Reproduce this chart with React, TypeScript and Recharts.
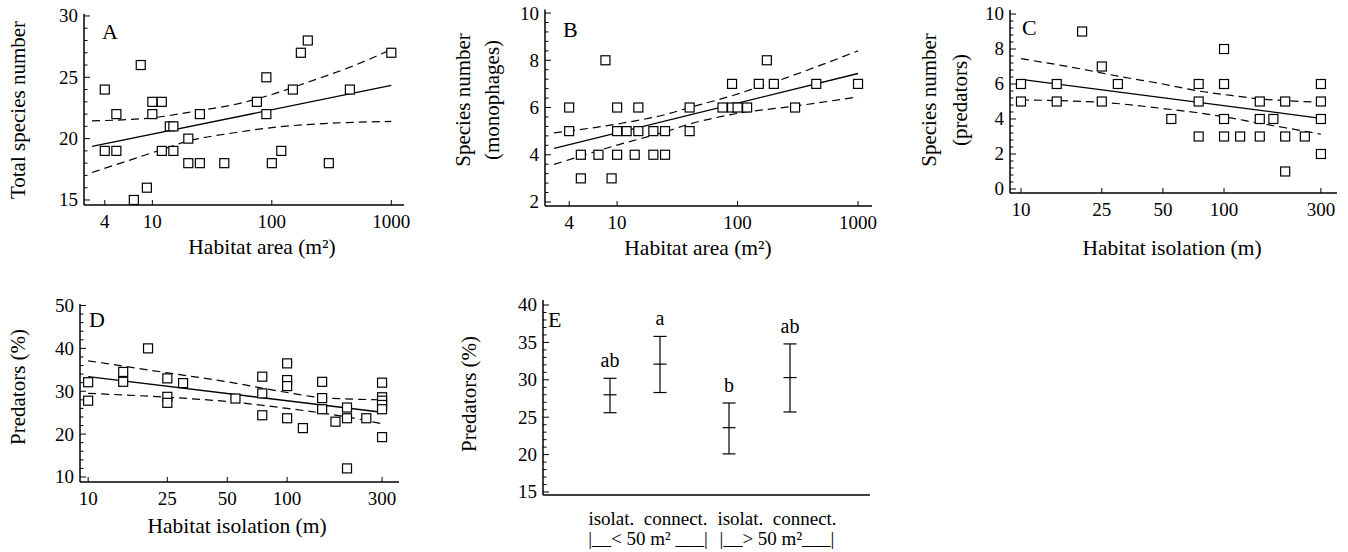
import React from 'react';
import { ComposedChart, Scatter, Line, XAxis, YAxis, ErrorBar } from 'recharts';

const FONT = '"Liberation Serif", "DejaVu Serif", "Times New Roman", serif';

// ---------- Panel A: total species vs habitat area ----------
const A_X = [4, 4, 5, 5, 7, 8, 9, 10, 10, 12, 12, 14, 15, 15, 20, 20, 25, 25, 40, 75, 90, 90, 100, 120, 150, 175, 200, 300, 450, 1000];
const A_Y = [24, 19, 22, 19, 15, 26, 16, 23, 22, 23, 19, 21, 21, 19, 20, 18, 22, 18, 18, 23, 25, 22, 18, 19, 24, 27, 28, 18, 24, 27];
const A_FIT_X = [3.13, 1000];
const A_FIT_Y = [19.37, 24.34];
const A_UP_X = [3.13, 10, 25, 50, 100, 200, 500, 1000];
const A_UP_Y = [21.45, 21.7, 22.3, 22.8, 23.6, 24.6, 26.0, 27.27];
const A_LO_X = [3.13, 10, 20, 50, 100, 300, 1000];
const A_LO_Y = [17.24, 18.85, 19.8, 20.5, 20.9, 21.25, 21.4];

// ---------- Panel B: monophages vs habitat area ----------
const B_X = [4, 4, 5, 5, 7, 8, 9, 10, 10, 10, 12, 14, 15, 15, 20, 20, 25, 25, 40, 40, 75, 90, 90, 100, 120, 150, 175, 200, 300, 450, 1000];
const B_Y = [6, 5, 4, 3, 4, 8, 3, 6, 5, 4, 5, 4, 6, 5, 5, 4, 5, 4, 6, 5, 6, 7, 6, 6, 6, 7, 8, 7, 6, 7, 7];
const B_FIT_X = [3.0, 1000];
const B_FIT_Y = [4.27, 7.44];
const B_UP_X = [3.0, 10, 25, 40, 90, 150, 200, 1000];
const B_UP_Y = [4.93, 5.3, 5.7, 6.0, 6.5, 6.87, 7.08, 8.4];
const B_LO_X = [3.0, 10, 25, 40, 100, 300, 1000];
const B_LO_Y = [3.59, 4.41, 4.97, 5.3, 5.75, 6.06, 6.45];

// ---------- Panel C: predators vs habitat isolation ----------
const C_X = [10, 10, 15, 15, 20, 25, 25, 30, 55, 75, 75, 75, 100, 100, 100, 100, 120, 150, 150, 150, 175, 200, 200, 200, 250, 300, 300, 300, 300];
const C_Y = [6, 5, 6, 5, 9, 7, 5, 6, 4, 6, 5, 3, 8, 6, 4, 3, 3, 5, 4, 3, 4, 5, 3, 1, 3, 6, 5, 4, 2];
const C_FIT_X = [10, 300];
const C_FIT_Y = [6.27, 4.04];
const C_UP_X = [10, 20, 30, 50, 75, 100, 150, 200, 300];
const C_UP_Y = [7.45, 6.85, 6.45, 6.0, 5.6, 5.4, 5.15, 5.05, 4.95];
const C_LO_X = [10, 25, 50, 100, 150, 200, 300];
const C_LO_Y = [5.09, 4.95, 4.6, 4.13, 3.75, 3.5, 3.13];

// ---------- Panel D: predators (%) vs habitat isolation ----------
const D_X = [10, 10, 15, 15, 20, 25, 25, 25, 30, 55, 75, 75, 75, 100, 100, 100, 100, 120, 150, 150, 150, 175, 200, 200, 200, 250, 300, 300, 300, 300, 300, 300];
const D_Y = [32.1, 27.8, 34.5, 32.2, 40, 33, 28.7, 27.3, 31.9, 28.3, 33.4, 29.5, 24.4, 36.5, 32.6, 31.2, 23.7, 21.4, 32.2, 28.4, 25.8, 22.9, 26.2, 23.7, 12, 23.7, 32, 28.6, 27.8, 26.8, 25.8, 19.3];
const D_FIT_X = [10, 300];
const D_FIT_Y = [33.4, 25.1];
const D_UP_X = [10, 25, 50, 100, 150, 300];
const D_UP_Y = [37.1, 34.3, 32.2, 29.7, 28.5, 28.0];
const D_LO_X = [10, 25, 50, 100, 150, 200, 300];
const D_LO_Y = [29.5, 28.6, 27.6, 26.0, 24.9, 24.0, 22.4];

// ---------- Panel E: predators (%) by group ----------
const E_POS = [1, 2, 3.38, 4.6];
const E_MEAN = [28.0, 32.1, 23.6, 30.3];
const E_LOW = [25.6, 28.3, 20.1, 25.7];
const E_HIGH = [30.2, 35.8, 26.9, 34.8];
const E_LETTERS = ['ab', 'a', 'b', 'ab'];
const E_GROUP_TICKS = [1.76, 4.34];
const E_GROUP_LINE1 = ['isolat.  connect.', 'isolat.  connect.'];
const E_GROUP_LINE2 = ['|__< 50 m² ___|', '|__> 50 m²___|'];

type Pt = { x: number; y: number };
const zip = (xs: number[], ys: number[]): Pt[] => xs.map((x, i) => ({ x, y: ys[i] }));

const range = (a: number, b: number, step: number) => {
  const out: number[] = [];
  for (let v = a; v <= b + 1e-9; v += step) out.push(Math.round(v * 1000) / 1000);
  return out;
};

const makeYTick = (majors: number[]) => (props: any) => {
  const { x, y, payload } = props;
  const v = payload.value;
  const isMajor = majors.some((m) => Math.abs(m - v) < 1e-6);
  return (
    <g>
      <line x1={x} x2={x + (isMajor ? 6 : 3.5)} y1={y} y2={y} stroke="#000" strokeWidth={1} />
      {isMajor && (
        <text x={x - 6} y={y} dy="0.34em" textAnchor="end" fontSize={19} fill="#000">
          {v}
        </text>
      )}
    </g>
  );
};

const XLogTick = (props: any) => {
  const { x, y, payload } = props;
  return (
    <g>
      <line x1={x} x2={x} y1={y} y2={y - 5} stroke="#000" strokeWidth={1} />
      <text x={x} y={y + 23} textAnchor="middle" fontSize={19} fill="#000">
        {payload.value}
      </text>
    </g>
  );
};

const EGroupTick = (props: any) => {
  const { x, y, index } = props;
  return (
    <g>
      <text x={x} y={y + 30} textAnchor="middle" fontSize={19} fill="#000" style={{ whiteSpace: 'pre' }}>
        {E_GROUP_LINE1[index]}
      </text>
      <text x={x} y={y + 50} textAnchor="middle" fontSize={19} fill="#000" style={{ whiteSpace: 'pre' }}>
        {E_GROUP_LINE2[index]}
      </text>
    </g>
  );
};

const Square = (props: any) => {
  const { cx, cy } = props;
  if (cx == null || cy == null) return null;
  return <rect x={cx - 4.5} y={cy - 4.5} width={9} height={9} fill="#fff" stroke="#000" strokeWidth={1.2} />;
};

const MeanTick = (props: any) => {
  const { cx, cy } = props;
  if (cx == null || cy == null) return null;
  return <line x1={cx - 6.5} x2={cx + 6.5} y1={cy} y2={cy} stroke="#000" strokeWidth={1.2} />;
};

const LetterMark = (props: any) => {
  const { cx, cy, payload } = props;
  if (cx == null || cy == null) return null;
  return (
    <text x={cx} y={cy - 11} textAnchor="middle" fontSize={20} fill="#000">
      {payload.label}
    </text>
  );
};

type YTitle = { text: string; x: number };

type PanelCfg = {
  left: number;
  top: number;
  width: number;
  height: number;
  margin: { top: number; right: number; bottom: number; left: number };
  xDomain: [number, number];
  xTicks: number[];
  yDomain: [number, number];
  yMajor: number[];
  yMinor: number[];
  points: Pt[];
  fit: Pt[];
  upper: Pt[];
  lower: Pt[];
  letter: string;
  letterPos: [number, number];
  yTitles: YTitle[];
  yTitleCY: number;
  xTitle: string;
  xTitlePos: [number, number];
};

const makeYLabel = (letter: string, letterPos: [number, number], titles: YTitle[], cy: number) => () => (
  <g>
    <text x={letterPos[0]} y={letterPos[1]} fontSize={22} fill="#000">
      {letter}
    </text>
    {titles.map((t, i) => (
      <text
        key={i}
        x={t.x}
        y={cy}
        textAnchor="middle"
        dominantBaseline="central"
        fontSize={21}
        fill="#000"
        transform={`rotate(-90 ${t.x} ${cy})`}
      >
        {t.text}
      </text>
    ))}
  </g>
);

const makeXLabel = (title: string, pos: [number, number]) => () => (
  <text x={pos[0]} y={pos[1]} textAnchor="middle" fontSize={21.5} fill="#000">
    {title}
  </text>
);

const ScatterPanel = ({ cfg }: { cfg: PanelCfg }) => {
  const yTicks = [...cfg.yMajor, ...cfg.yMinor].sort((a, b) => a - b);
  return (
    <div style={{ position: 'absolute', left: cfg.left, top: cfg.top, width: cfg.width, height: cfg.height }}>
      <ComposedChart width={cfg.width} height={cfg.height} margin={cfg.margin}>
        <XAxis
          xAxisId={0}
          dataKey="x"
          type="number"
          scale="log"
          domain={cfg.xDomain}
          allowDataOverflow
          ticks={cfg.xTicks}
          interval={0}
          tickSize={0}
          tickMargin={0}
          tickLine={false}
          tick={XLogTick}
          axisLine={{ stroke: '#000', strokeWidth: 1.5 }}
          height={50}
          label={makeXLabel(cfg.xTitle, cfg.xTitlePos)}
        />
        <XAxis
          xAxisId="top"
          orientation="top"
          type="number"
          domain={[0, 1]}
          tick={false}
          tickLine={false}
          height={0}
          axisLine={{ stroke: '#777', strokeWidth: 1 }}
        />
        <YAxis
          yAxisId={0}
          dataKey="y"
          type="number"
          domain={cfg.yDomain}
          allowDataOverflow
          ticks={yTicks}
          interval={0}
          tickSize={0}
          tickMargin={0}
          tickLine={false}
          tick={makeYTick(cfg.yMajor)}
          axisLine={{ stroke: '#000', strokeWidth: 1.5 }}
          width={60}
          label={makeYLabel(cfg.letter, cfg.letterPos, cfg.yTitles, cfg.yTitleCY)}
        />
        <YAxis
          yAxisId="right"
          orientation="right"
          type="number"
          domain={[0, 1]}
          tick={false}
          tickLine={false}
          width={0}
          axisLine={{ stroke: '#777', strokeWidth: 1 }}
        />
        <Line data={cfg.upper} dataKey="y" type="monotone" stroke="#000" strokeWidth={1.2} strokeDasharray="8 5" dot={false} activeDot={false} isAnimationActive={false} />
        <Line data={cfg.lower} dataKey="y" type="monotone" stroke="#000" strokeWidth={1.2} strokeDasharray="8 5" dot={false} activeDot={false} isAnimationActive={false} />
        <Line data={cfg.fit} dataKey="y" type="linear" stroke="#000" strokeWidth={1.3} dot={false} activeDot={false} isAnimationActive={false} />
        <Scatter data={cfg.points} shape={Square} isAnimationActive={false} />
      </ComposedChart>
    </div>
  );
};

const PANEL_A: PanelCfg = {
  left: 0, top: 0, width: 420, height: 270,
  margin: { top: 14, right: 16, bottom: 15, left: 24 },
  xDomain: [2.68, 1277], xTicks: [4, 10, 100, 1000],
  yDomain: [14.59, 30.16], yMajor: [15, 20, 25, 30], yMinor: range(15, 30, 1).filter((v) => v % 5 !== 0),
  points: zip(A_X, A_Y), fit: zip(A_FIT_X, A_FIT_Y), upper: zip(A_UP_X, A_UP_Y), lower: zip(A_LO_X, A_LO_Y),
  letter: 'A', letterPos: [102, 39],
  yTitles: [{ text: 'Total species number', x: 18 }], yTitleCY: 110,
  xTitle: 'Habitat area (m²)', xTitlePos: [262, 254],
};

const PANEL_B: PanelCfg = {
  left: 440, top: 0, width: 440, height: 270,
  margin: { top: 9.5, right: 8, bottom: 14, left: 45 },
  xDomain: [2.52, 1306], xTicks: [4, 10, 100, 1000],
  yDomain: [1.83, 10.15], yMajor: [2, 4, 6, 8, 10], yMinor: range(2, 10, 0.4).filter((v) => Math.abs(v / 2 - Math.round(v / 2)) > 1e-6),
  points: zip(B_X, B_Y), fit: zip(B_FIT_X, B_FIT_Y), upper: zip(B_UP_X, B_UP_Y), lower: zip(B_LO_X, B_LO_Y),
  letter: 'B', letterPos: [123, 37],
  yTitles: [{ text: 'Species number', x: 23 }, { text: '(monophages)', x: 52 }], yTitleCY: 100,
  xTitle: 'Habitat area (m²)', xTitlePos: [258, 255],
};

const PANEL_C: PanelCfg = {
  left: 900, top: 0, width: 448, height: 270,
  margin: { top: 10, right: 11, bottom: 27, left: 50 },
  xDomain: [8.83, 360], xTicks: [10, 25, 50, 100, 300],
  yDomain: [-0.23, 10.23], yMajor: [0, 2, 4, 6, 8, 10], yMinor: range(0, 10, 0.4).filter((v) => Math.abs(v / 2 - Math.round(v / 2)) > 1e-6),
  points: zip(C_X, C_Y), fit: zip(C_FIT_X, C_FIT_Y), upper: zip(C_UP_X, C_UP_Y), lower: zip(C_LO_X, C_LO_Y),
  letter: 'C', letterPos: [122, 35],
  yTitles: [{ text: 'Species number', x: 29 }, { text: '(predators)', x: 60 }], yTitleCY: 100,
  xTitle: 'Habitat isolation (m)', xTitlePos: [272, 255],
};

const PANEL_D: PanelCfg = {
  left: 0, top: 280, width: 420, height: 272,
  margin: { top: 24, right: 21, bottom: 20, left: 20 },
  xDomain: [9.1, 365], xTicks: [10, 25, 50, 100, 300],
  yDomain: [8.83, 50.35], yMajor: [10, 20, 30, 40, 50], yMinor: range(10, 50, 2).filter((v) => v % 10 !== 0),
  points: zip(D_X, D_Y), fit: zip(D_FIT_X, D_FIT_Y), upper: zip(D_UP_X, D_UP_Y), lower: zip(D_LO_X, D_LO_Y),
  letter: 'D', letterPos: [89, 46.7],
  yTitles: [{ text: 'Predators (%)', x: 18 }], yTitleCY: 107,
  xTitle: 'Habitat isolation (m)', xTitlePos: [237, 253],
};

const E_DATA = E_POS.map((x, i) => ({ x, y: E_MEAN[i], err: [E_MEAN[i] - E_LOW[i], E_HIGH[i] - E_MEAN[i]] }));
const E_LETTER_DATA = E_POS.map((x, i) => ({ x, y: E_HIGH[i], label: E_LETTERS[i] }));
const E_MAJOR = [15, 20, 25, 30, 35, 40];
const E_MINOR = range(15, 40, 1).filter((v) => v % 5 !== 0);

const PanelE = () => {
  const width = 440;
  const height = 272;
  const yTicks = [...E_MAJOR, ...E_MINOR].sort((a, b) => a - b);
  return (
    <div style={{ position: 'absolute', left: 440, top: 280, width, height }}>
      <ComposedChart width={width} height={height} margin={{ top: 20, right: 10, bottom: 7, left: 43 }}>
        <XAxis
          xAxisId={0}
          dataKey="x"
          type="number"
          domain={[-0.34, 6.2]}
          allowDataOverflow
          ticks={E_GROUP_TICKS}
          interval={0}
          tickSize={0}
          tickMargin={0}
          tickLine={false}
          tick={EGroupTick}
          axisLine={{ stroke: '#000', strokeWidth: 1.5 }}
          height={50}
        />
        <XAxis xAxisId="top" orientation="top" type="number" domain={[0, 1]} tick={false} tickLine={false} height={0} axisLine={{ stroke: '#777', strokeWidth: 1 }} />
        <YAxis
          yAxisId={0}
          dataKey="y"
          type="number"
          domain={[14.6, 40.67]}
          allowDataOverflow
          ticks={yTicks}
          interval={0}
          tickSize={0}
          tickMargin={0}
          tickLine={false}
          tick={makeYTick(E_MAJOR)}
          axisLine={{ stroke: '#000', strokeWidth: 1.5 }}
          width={60}
          label={makeYLabel('E', [108, 46.7], [{ text: 'Predators (%)', x: 29 }], 114)}
        />
        <YAxis yAxisId="right" orientation="right" type="number" domain={[0, 1]} tick={false} tickLine={false} width={0} axisLine={{ stroke: '#777', strokeWidth: 1 }} />
        <Scatter data={E_DATA} shape={MeanTick} isAnimationActive={false}>
          <ErrorBar dataKey="err" direction="y" width={6.5} stroke="#000" strokeWidth={1.2} isAnimationActive={false} />
        </Scatter>
        <Scatter data={E_LETTER_DATA} shape={LetterMark} isAnimationActive={false} />
      </ComposedChart>
    </div>
  );
};

export default function App() {
  return (
    <div
      style={{
        position: 'fixed',
        left: 0,
        top: 0,
        width: 1348,
        height: 552,
        background: '#fff',
        fontFamily: FONT,
        overflow: 'hidden',
      }}
    >
      <ScatterPanel cfg={PANEL_A} />
      <ScatterPanel cfg={PANEL_B} />
      <ScatterPanel cfg={PANEL_C} />
      <ScatterPanel cfg={PANEL_D} />
      <PanelE />
    </div>
  );
}
